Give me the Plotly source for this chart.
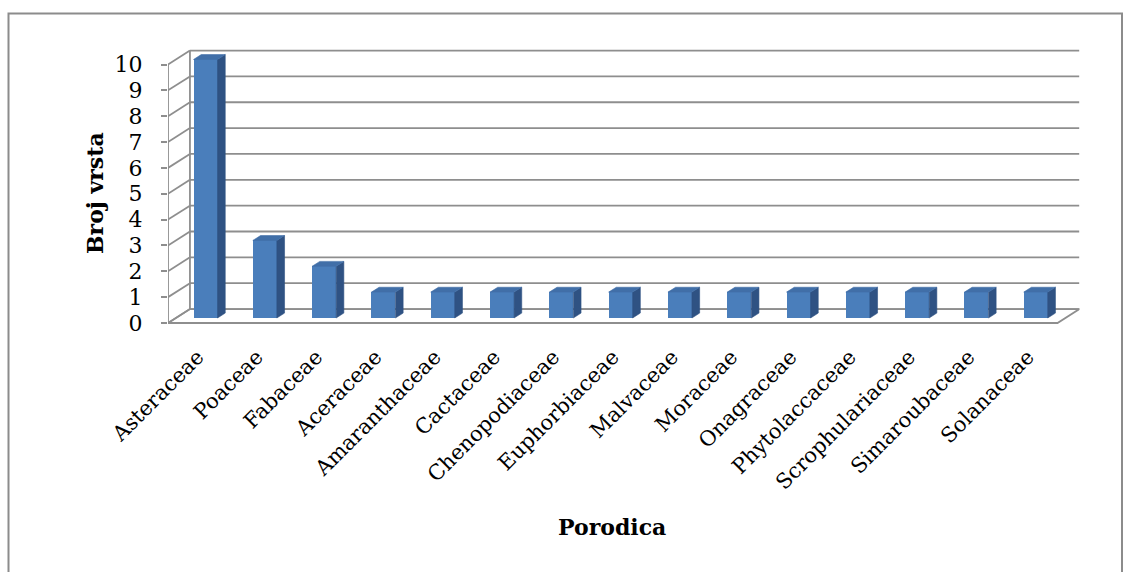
import plotly.graph_objects as go

# Plant families and number of species per family
families = [
    "Asteraceae", "Poaceae", "Fabaceae", "Aceraceae", "Amaranthaceae",
    "Cactaceae", "Chenopodiaceae", "Euphorbiaceae", "Malvaceae", "Moraceae",
    "Onagraceae", "Phytolaccaceae", "Scrophulariaceae", "Simaroubaceae", "Solanaceae",
]
species_count = [10, 3, 2, 1, 1, 1, 1, 1, 1, 1, 1, 1, 1, 1, 1]
y_ticks = [0, 1, 2, 3, 4, 5, 6, 7, 8, 9, 10]

W, H = 1130, 572

# pseudo-3D depth: offset of the back wall in data units
DX, DY = 0.37, 0.54
T0, T1 = 0.36, 0.71          # front / back depth of the columns
BAR_W = 0.405

FRONT = "#4a7ebb"
SIDE = "#2f5283"
TOP = "#416fa8"
GRID = "#8e8e8e"
FONT = "DejaVu Serif"

n = len(families)
xpos = list(range(n))
x_left, x_right = -0.5, n - 0.5

fig = go.Figure()

# column front faces
xc = [i + DX * T0 for i in xpos]
fig.add_trace(go.Bar(
    x=xc, y=species_count, base=[DY * T0] * n, width=BAR_W,
    marker=dict(color=FRONT, line=dict(width=0)),
    showlegend=False, hoverinfo="skip",
))

# column side and top faces
ddx, ddy = DX * (T1 - T0), DY * (T1 - T0)
sx, sy, tx, ty = [], [], [], []
for c, v in zip(xc, species_count):
    b = DY * T0
    r = c + BAR_W / 2
    l = c - BAR_W / 2
    sx += [r, r, r + ddx, r + ddx, r, None]
    sy += [b, b + v, b + v + ddy, b + ddy, b, None]
    tx += [l, r, r + ddx, l + ddx, l, None]
    ty += [b + v, b + v, b + v + ddy, b + v + ddy, b + v, None]
fig.add_trace(go.Scatter(x=sx, y=sy, mode="lines", fill="toself",
                         fillcolor=SIDE, line=dict(width=0.6, color=SIDE),
                         showlegend=False, hoverinfo="skip"))
fig.add_trace(go.Scatter(x=tx, y=ty, mode="lines", fill="toself",
                         fillcolor=TOP, line=dict(width=0.6, color=TOP),
                         showlegend=False, hoverinfo="skip"))

shapes = []
line_style = dict(color=GRID, width=1.8)
# back wall gridlines and left wall diagonals
for v in y_ticks:
    shapes.append(dict(type="line", xref="x", yref="y", layer="below",
                       x0=x_left + DX, x1=x_right + DX, y0=v + DY, y1=v + DY,
                       line=line_style))
    shapes.append(dict(type="line", xref="x", yref="y", layer="below",
                       x0=x_left, x1=x_left + DX, y0=v, y1=v + DY,
                       line=line_style))
# left wall verticals
for off_x, off_y in [(0, 0), (DX, DY)]:
    shapes.append(dict(type="line", xref="x", yref="y", layer="below",
                       x0=x_left + off_x, x1=x_left + off_x,
                       y0=off_y, y1=y_ticks[-1] + off_y, line=line_style))
# floor outline
shapes.append(dict(type="path", xref="x", yref="y", layer="below",
                   path=f"M {x_left},0 L {x_right},0 L {x_right + DX},{DY} L {x_left + DX},{DY} Z",
                   line=line_style, fillcolor="rgba(0,0,0,0)"))
# chart border
shapes.append(dict(type="rect", xref="paper", yref="paper",
                   x0=8.5 / W, x1=1122 / W, y0=-0.05, y1=(H - 13.5) / H,
                   line=dict(color="#8c8c8c", width=2)))

# axis geometry (front plane): value 0 at 323 px, 25.85 px per unit
y_lo, y_hi = -0.1, 10.6
py0 = 323 + 0.1 * 25.85
py1 = 323 - 10.6 * 25.85
px0 = 168
px1 = px0 + (x_right + DX - x_left) * 59.3

fig.update_layout(
    width=W, height=H,
    margin=dict(l=0, r=0, t=0, b=0, autoexpand=False),
    paper_bgcolor="white", plot_bgcolor="white",
    bargap=0,
    shapes=shapes,
    xaxis=dict(
        domain=[px0 / W, px1 / W], range=[x_left, x_right + DX],
        tickmode="array", tickvals=xpos, ticktext=families,
        tickangle=-45, ticks="", showgrid=False, zeroline=False, showline=False,
        tickfont=dict(family=FONT, size=21, color="black"),
        ticklabelstandoff=14, automargin=False,
    ),
    yaxis=dict(
        domain=[(H - py0) / H, (H - py1) / H], range=[y_lo, y_hi],
        tickmode="array", tickvals=y_ticks,
        ticks="outside", ticklen=6, tickwidth=1.8, tickcolor=GRID,
        showgrid=False, zeroline=False, showline=False,
        tickfont=dict(family=FONT, size=22, color="black"),
        ticklabelstandoff=14, automargin=False,
    ),
    annotations=[
        dict(text="<b>Broj vrsta</b>", xref="paper", yref="paper",
             x=95 / W, y=(H - 193) / H, xanchor="center", yanchor="middle",
             textangle=-90, showarrow=False,
             font=dict(family=FONT, size=22, color="black")),
        dict(text="<b>Porodica</b>", xref="paper", yref="paper",
             x=612 / W, y=(H - 527) / H, xanchor="center", yanchor="middle",
             showarrow=False,
             font=dict(family=FONT, size=22, color="black")),
    ],
)

fig.write_html("out.html")
